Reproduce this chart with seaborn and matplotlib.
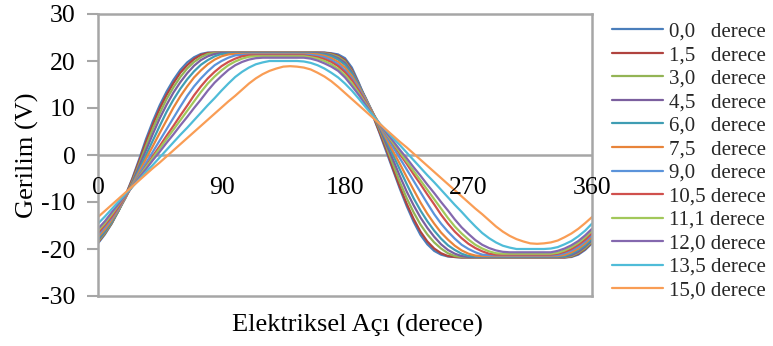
import matplotlib
matplotlib.use("Agg")
import matplotlib.pyplot as plt
import pandas as pd
import seaborn as sns

# electrical angle, every 5 degrees over one period
angles = list(range(0, 361, 5))

skew_labels = ["0,0   derece", "1,5   derece", "3,0   derece", "4,5   derece",
               "6,0   derece", "7,5   derece", "9,0   derece", "10,5 derece",
               "11,1 derece", "12,0 derece", "13,5 derece", "15,0 derece"]

colors = ["#4A7EBB", "#B0433F", "#93B455", "#7B5F9E", "#3F9DB3", "#E8843A",
          "#5B93DA", "#D0504D", "#A2C85A", "#8468AE", "#4FBCD8", "#F99D55"]

v_00 = [-18.8, -16.9, -14.6, -11.8, -8.6, -5.0, -0.9, 3.4, 7.2, 10.6, 13.5, 16.0, 18.1,
        19.7, 20.8, 21.5, 21.8,
        21.8, 21.8, 21.8, 21.8, 21.8, 21.8, 21.8, 21.8, 21.8, 21.8, 21.8, 21.8, 21.8,
        21.8, 21.8, 21.8, 21.8,
        21.65, 21.4, 20.6, 18.6, 15.4, 11.9, 8.6, 4.8, 0.8, -3.2, -7.2, -10.9, -14.2,
        -17.0, -19.0, -20.4, -21.2, -21.6, -21.7,
        -21.8, -21.8, -21.8, -21.8, -21.8, -21.8, -21.8, -21.8, -21.8, -21.8, -21.8,
        -21.8, -21.8, -21.8, -21.8, -21.8,
        -21.7, -21.2, -20.2, -18.8]
v_15 = [-18.6, -16.7, -14.5, -11.8, -8.7, -5.2, -1.3, 2.8, 6.5, 9.9, 12.8, 15.3, 17.5,
        19.1, 20.4, 21.3, 21.7,
        21.8, 21.8, 21.8, 21.8, 21.8, 21.8, 21.8, 21.8, 21.8, 21.8, 21.8, 21.8, 21.8,
        21.8, 21.8, 21.8,
        21.75, 21.55, 21.1, 20.2, 18.1, 15.1, 11.9, 8.7, 5.0, 1.3, -2.9, -6.8, -10.4,
        -13.6, -16.3, -18.4, -19.9, -20.9, -21.5, -21.7,
        -21.8, -21.8, -21.8, -21.8, -21.8, -21.8, -21.8, -21.8, -21.8, -21.8, -21.8,
        -21.8, -21.8, -21.8, -21.8, -21.8,
        -21.6, -21.0, -20.0, -18.6]
v_30 = [-18.4, -16.6, -14.4, -11.9, -8.9, -5.6, -1.9, 1.9, 5.6, 8.9, 11.9, 14.4, 16.6,
        18.4, 19.8, 20.8, 21.5, 21.7,
        21.75, 21.75, 21.75, 21.75, 21.75, 21.75, 21.75, 21.75, 21.75, 21.75, 21.75,
        21.75, 21.75, 21.75, 21.75,
        21.65, 21.4, 20.9, 19.9, 17.8, 15.0, 12.0, 8.9, 5.5, 1.9, -2.0, -5.8, -9.2,
        -12.2, -14.8, -16.9, -18.6, -19.9, -20.9, -21.5, -21.7,
        -21.75, -21.75, -21.75, -21.75, -21.75, -21.75, -21.75, -21.75, -21.75, -21.75,
        -21.75, -21.75, -21.75, -21.75,
        -21.7, -21.5, -20.8, -19.8, -18.4]
v_45 = [-18.1, -16.3, -14.2, -11.8, -9.0, -5.9, -2.4, 1.0, 4.5, 7.8, 10.7, 13.3, 15.5,
        17.4, 19.0, 20.2, 21.0, 21.5, 21.7,
        21.7, 21.7, 21.7, 21.7, 21.7, 21.7, 21.7, 21.7, 21.7, 21.7, 21.7, 21.7, 21.7,
        21.7,
        21.55, 21.2, 20.6, 19.6, 17.6, 15.0, 12.2, 9.1, 5.9, 2.4, -1.0, -4.5, -7.8,
        -10.7, -13.3, -15.5, -17.4, -19.0, -20.2, -21.0, -21.5, -21.7,
        -21.7, -21.7, -21.7, -21.7, -21.7, -21.7, -21.7, -21.7, -21.7, -21.7, -21.7,
        -21.7,
        -21.7, -21.6, -21.3, -20.6, -19.5, -18.1]
v_60 = [-17.8, -16.1, -14.1, -11.8, -9.2, -6.2, -3.1, 0.0, 3.1, 6.2, 9.2, 11.8, 14.1,
        16.1, 17.8, 19.2, 20.2, 21.0, 21.5, 21.6,
        21.6, 21.6, 21.6, 21.6, 21.6, 21.6, 21.6, 21.6, 21.6, 21.6, 21.6, 21.6,
        21.55, 21.35, 21.0, 20.3, 19.2, 17.3, 14.8, 12.1, 9.2, 6.2, 3.1, 0.0, -3.1,
        -6.2, -9.2, -11.8, -14.1, -16.1, -17.8, -19.2, -20.2, -21.0, -21.5, -21.6,
        -21.6, -21.6, -21.6, -21.6, -21.6, -21.6, -21.6, -21.6, -21.6, -21.6, -21.6,
        -21.6, -21.5, -21.0, -20.2, -19.2, -17.8]
v_75 = [-17.4, -15.8, -13.8, -11.6, -9.1, -6.3, -3.6, -0.8, 1.9, 4.7, 7.4, 10.1, 12.5,
        14.6, 16.5, 18.0, 19.3, 20.3, 21.0, 21.4, 21.5,
        21.5, 21.5, 21.5, 21.5, 21.5, 21.5, 21.5, 21.5, 21.5, 21.5, 21.5,
        21.4, 21.1, 20.6, 19.8, 18.6, 16.8, 14.5, 11.9, 9.1, 6.3, 3.6, 0.8, -1.9,
        -4.7, -7.4, -10.1, -12.5, -14.6, -16.5, -18.0, -19.3, -20.3, -21.0, -21.4, -21.5,
        -21.5, -21.5, -21.5, -21.5, -21.5, -21.5, -21.5, -21.5, -21.5, -21.5,
        -21.5, -21.25, -20.7, -19.9, -18.8, -17.4]
v_90 = [-17.0, -15.3, -13.4, -11.3, -8.9, -6.5, -4.1, -1.7, 0.7, 3.1, 5.5, 7.9, 10.3,
        12.6, 14.6, 16.3, 17.8, 19.1, 20.0, 20.7, 21.2, 21.3,
        21.35, 21.35, 21.35, 21.35, 21.35, 21.35, 21.35, 21.35, 21.35,
        21.3, 21.1, 20.8, 20.2, 19.3, 18.0, 16.3, 14.1, 11.6, 9.0, 6.5, 4.1, 1.7, -0.7,
        -3.1, -5.5, -7.9, -10.3, -12.6, -14.6, -16.3, -17.8, -19.1, -20.0, -20.7, -21.2,
        -21.3,
        -21.35, -21.35, -21.35, -21.35, -21.35, -21.35, -21.35, -21.35, -21.35,
        -21.3, -20.9, -20.3, -19.5, -18.4, -17.0]
v_105 = [-16.6, -14.9, -13.1, -11.0, -8.8, -6.7, -4.5, -2.4, -0.2, 1.9, 4.1, 6.2, 8.4,
         10.5, 12.7, 14.6, 16.3, 17.7, 18.9, 19.8, 20.5, 21.0, 21.2,
         21.2, 21.2, 21.2, 21.2, 21.2, 21.2, 21.2, 21.2,
         21.0, 20.8, 20.4, 19.8, 18.9, 17.6, 15.9, 13.7, 11.3, 9.0, 6.7, 4.5, 2.4, 0.2,
         -1.9, -4.1, -6.2, -8.4, -10.5, -12.7, -14.6, -16.3, -17.7, -18.9, -19.8, -20.5,
         -21.0, -21.2,
         -21.2, -21.2, -21.2, -21.2, -21.2, -21.2, -21.2, -21.2,
         -21.0, -20.6, -20.0, -19.1, -18.0, -16.6]
v_111 = [-16.1, -14.5, -12.6, -10.6, -8.6, -6.6, -4.6, -2.6, -0.6, 1.4, 3.4, 5.4, 7.4,
         9.4, 11.4, 13.4, 15.2, 16.7, 18.0, 19.1, 19.9, 20.5, 20.9, 21.0,
         21.0, 21.0, 21.0, 21.0, 21.0, 21.0,
         21.0, 20.8, 20.5, 20.0, 19.3, 18.3, 17.0, 15.3, 13.2, 11.0, 8.8, 6.7, 4.6, 2.6,
         0.6, -1.4, -3.4, -5.4, -7.4, -9.4, -11.4, -13.4, -15.2, -16.7, -18.0, -19.1,
         -19.9, -20.5, -20.9, -21.0,
         -21.0, -21.0, -21.0, -21.0, -21.0, -21.0,
         -21.0, -20.8, -20.3, -19.6, -18.7, -17.5, -16.1]
v_120 = [-15.7, -14.1, -12.2, -10.4, -8.5, -6.7, -4.8, -3.0, -1.1, 0.7, 2.6, 4.4, 6.3,
         8.1, 10.0, 11.8, 13.7, 15.4, 16.8, 18.1, 19.1, 19.8, 20.3, 20.6, 20.7,
         20.7, 20.7, 20.7, 20.7,
         20.7, 20.7, 20.5, 20.1, 19.5, 18.8, 17.9, 16.5, 14.7, 12.8, 10.7, 8.6, 6.7, 4.8,
         3.0, 1.1, -0.7, -2.6, -4.4, -6.3, -8.1, -10.0, -11.8, -13.7, -15.4, -16.8,
         -18.1, -19.1, -19.8, -20.3, -20.6, -20.7,
         -20.7, -20.7, -20.7, -20.7, -20.7,
         -20.7, -20.4, -19.9, -19.2, -18.3, -17.1, -15.7]
v_135 = [-14.6, -13.1, -11.5, -9.9, -8.3, -6.8, -5.2, -3.6, -2.1, -0.5, 1.1, 2.7, 4.3,
         5.8, 7.4, 9.0, 10.6, 12.1, 13.7, 15.2, 16.6, 17.7, 18.6, 19.3, 19.7, 20.0,
         20.0, 20.0, 20.0, 20.0, 19.9, 19.6, 19.1, 18.4, 17.5, 16.5, 15.2, 13.7, 12.0,
         10.2, 8.5, 6.8, 5.2, 3.6, 2.1, 0.5, -1.1, -2.7, -4.3, -5.8, -7.4, -9.0, -10.6,
         -12.1, -13.7, -15.2, -16.6, -17.7, -18.6, -19.3, -19.7, -20.0, -20.0, -20.0,
         -20.0, -20.0, -19.9, -19.6, -19.0, -18.3, -17.3, -16.1, -14.6]
v_150 = [-13.2, -11.9, -10.6, -9.3, -8.0, -6.7, -5.4, -4.1, -2.8, -1.6, -0.3, 1.0, 2.3,
         3.6, 4.9, 6.2, 7.5, 8.8, 10.1, 11.4, 12.6, 13.9, 15.2, 16.3, 17.2, 17.9, 18.4,
         18.8, 18.9, 18.8, 18.6, 18.2, 17.5, 16.7, 15.7, 14.5, 13.2, 11.9, 10.6, 9.3,
         8.0, 6.7, 5.4, 4.1, 2.8, 1.6, 0.3, -1.0, -2.3, -3.6, -4.9, -6.2, -7.5, -8.8,
         -10.1, -11.4, -12.6, -13.9, -15.2, -16.3, -17.2, -17.9, -18.4, -18.8, -18.9,
         -18.8, -18.6, -18.2, -17.5, -16.7, -15.7, -14.5, -13.2]

series = [v_00, v_15, v_30, v_45, v_60, v_75, v_90, v_105, v_111, v_120, v_135, v_150]
for values in series:
    assert len(values) == len(angles), len(values)

x_ticks = [0, 90, 180, 270, 360]
y_ticks = [-30, -20, -10, 0, 10, 20, 30]

rows = []
for label, values in zip(skew_labels, series):
    for a, v in zip(angles, values):
        rows.append({"angle": a, "voltage": v, "skew": label})
df = pd.DataFrame(rows)

sns.set_theme(style="white")
plt.rcParams["font.family"] = ["Liberation Serif", "DejaVu Serif"]

grey = "#A6A6A6"
fig = plt.figure(figsize=(7.73, 3.46), dpi=100)
ax = fig.add_axes([98 / 773, 1 - 296 / 346, 494 / 773, 282 / 346])

sns.lineplot(data=df, x="angle", y="voltage", hue="skew", hue_order=skew_labels,
             palette=colors, linewidth=1.6, ax=ax, legend=True)

ax.set_xlim(0, 360)
ax.set_ylim(-30, 30)
ax.set_yticks(y_ticks)
ax.set_yticklabels([str(t) for t in y_ticks], fontsize=18.5, color="black")
ax.tick_params(axis="y", direction="out", length=8, width=1.5, color=grey, pad=8,
               left=True)
ax.set_xticks([])
for sp in ax.spines.values():
    sp.set_color(grey)
    sp.set_linewidth(1.8)

# horizontal axis through zero, with its labels hanging below it
ax.axhline(0, color=grey, linewidth=1.8, zorder=1)
for t in x_ticks:
    ax.annotate(str(t), xy=(t, 0), xytext=(0, -24), textcoords="offset points",
                ha="center", va="center", fontsize=18.5, color="black",
                annotation_clip=False)

ax.set_ylabel("Gerilim (V)", fontsize=19, color="black", labelpad=2)
ax.set_xlabel("Elektriksel Açı (derece)", fontsize=19, color="black")
ax.xaxis.set_label_coords(0.526, -0.062)

handles, labels = ax.get_legend_handles_labels()
ax.legend(handles, labels, loc="upper left", bbox_to_anchor=(612 / 773, 1 - 22 / 346),
          bbox_transform=fig.transFigure, frameon=False, fontsize=15,
          handlelength=2.45, handletextpad=0.3, labelspacing=0.19, borderpad=0,
          borderaxespad=0)

fig.savefig("out.png", dpi=100)
